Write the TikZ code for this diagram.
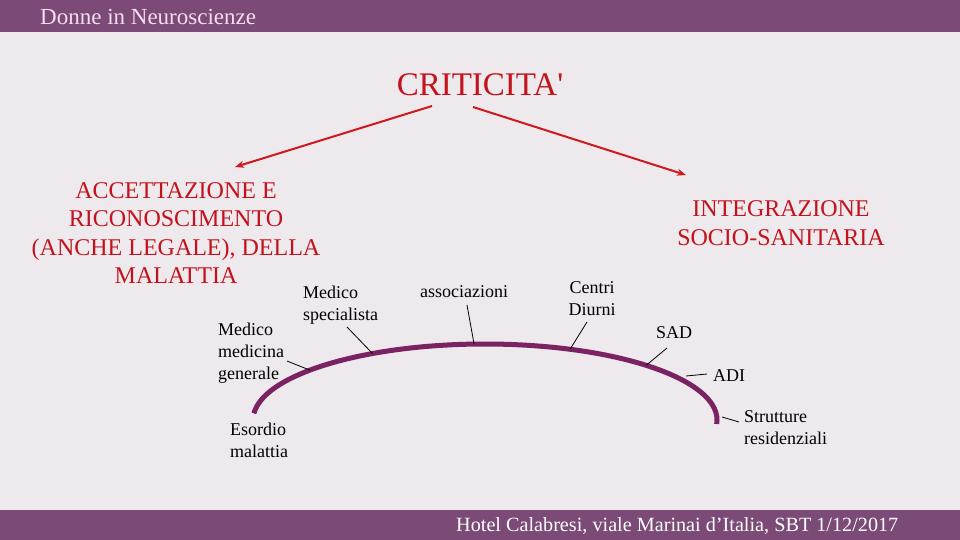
\documentclass[tikz,border=0pt]{standalone}
\usepackage{fontspec}
\setmainfont{Liberation Serif}
\newfontfamily\plainserif[Ligatures=TeXOff]{Liberation Serif}
\usetikzlibrary{arrows.meta,calc}
\definecolor{bg}{HTML}{EDE9ED}
\definecolor{bar}{HTML}{7B4A77}
\definecolor{titlepink}{HTML}{F6DDF2}
\definecolor{redtxt}{HTML}{C4121C}
\definecolor{redarr}{HTML}{D0191F}
\definecolor{arcpurple}{HTML}{7A2262}
\tikzset{
  redbig/.style={text=redtxt, font=\fontsize{24}{28.5}\selectfont, align=center, inner sep=0pt},
  lbl/.style={text=black, font=\fontsize{18}{22}\selectfont, inner sep=0pt},
  tick/.style={draw=black, line width=0.8pt},
  redarrow/.style={draw=redarr, line width=2pt, -{Stealth[length=9pt,width=7pt]}},
}
\begin{document}
\begin{tikzpicture}[x=1pt,y=1pt]
\useasboundingbox (0,0) rectangle (960,-540);
\fill[bg] (0,0) rectangle (960,-540);
\fill[bar] (0,0) rectangle (960,-32);
\fill[bar] (0,-510) rectangle (960,-540);
\node[anchor=west, text=titlepink, font=\fontsize{23}{26}\selectfont, inner sep=0pt] (title) at (40,-17) {Donne in Neuroscienze};
\node[anchor=west, text=white, font=\fontsize{20.2}{24}\selectfont, inner sep=0pt] (footer) at (456,-526) {Hotel Calabresi, viale Marinai d’Italia, SBT 1/12/2017};

\node[text=redtxt, font=\plainserif\fontsize{33}{38}\selectfont, inner sep=0pt] (crit) at (480,-85) {CRITICITA'};
\node[redbig] (acc) at (176,-233) {ACCETTAZIONE E\\RICONOSCIMENTO\\(ANCHE LEGALE), DELLA\\MALATTIA};
\node[redbig] (integ) at (781,-223) {INTEGRAZIONE\\SOCIO-SANITARIA};

\coordinate (la) at (432,-106);
\coordinate (lb) at (235,-167);
\coordinate (ra) at (473,-107);
\coordinate (rb) at (686,-175);
\draw[redarrow] (la) -- (lb);
\draw[redarrow] (ra) -- (rb);

% arc
\coordinate (c) at (485,-420);
\draw[arcpurple, line width=5pt] ($(c)+(175:232pt and 76pt)$) arc[start angle=175, end angle=-3, x radius=232pt, y radius=76pt];

\node[lbl, anchor=west, align=left] (mmg) at (218,-353) {Medico\\medicina\\generale};
\node[lbl, anchor=west, align=left] (msp) at (303,-305) {Medico\\specialista};
\node[lbl, anchor=west] (ass) at (420,-292) {associazioni};
\node[lbl, align=center] (cd) at (592,-299) {Centri\\Diurni};
\node[lbl, anchor=west] (sad) at (656,-333) {SAD};
\node[lbl, anchor=west] (adi) at (713,-376) {ADI};
\node[lbl, anchor=west, align=left] (str) at (744,-428) {Strutture\\residenziali};
\node[lbl, anchor=west, align=left] (eso) at (230,-440) {Esordio\\malattia};

\coordinate (t1a) at (287,-361);
\coordinate (t1b) at ($(c)+(139:232pt and 76pt)$);
\coordinate (t2a) at (347,-327);
\coordinate (t2b) at ($(c)+(119:232pt and 76pt)$);
\coordinate (t3a) at (467,-305);
\coordinate (t3b) at ($(c)+(92.7:232pt and 76pt)$);
\coordinate (t4a) at (587,-322);
\coordinate (t4b) at ($(c)+(68.5:232pt and 76pt)$);
\coordinate (t5a) at (667,-348);
\coordinate (t5b) at ($(c)+(46:232pt and 76pt)$);
\coordinate (t6a) at (707,-374);
\coordinate (t6b) at (686,-376);
\coordinate (t7a) at (739,-422);
\coordinate (t7b) at (722,-417);
\draw[tick] (t1a) -- (t1b);
\draw[tick] (t2a) -- (t2b);
\draw[tick] (t3a) -- (t3b);
\draw[tick] (t4a) -- (t4b);
\draw[tick] (t5a) -- (t5b);
\draw[tick] (t6a) -- (t6b);
\draw[tick] (t7a) -- (t7b);
\end{tikzpicture}
\end{document}
